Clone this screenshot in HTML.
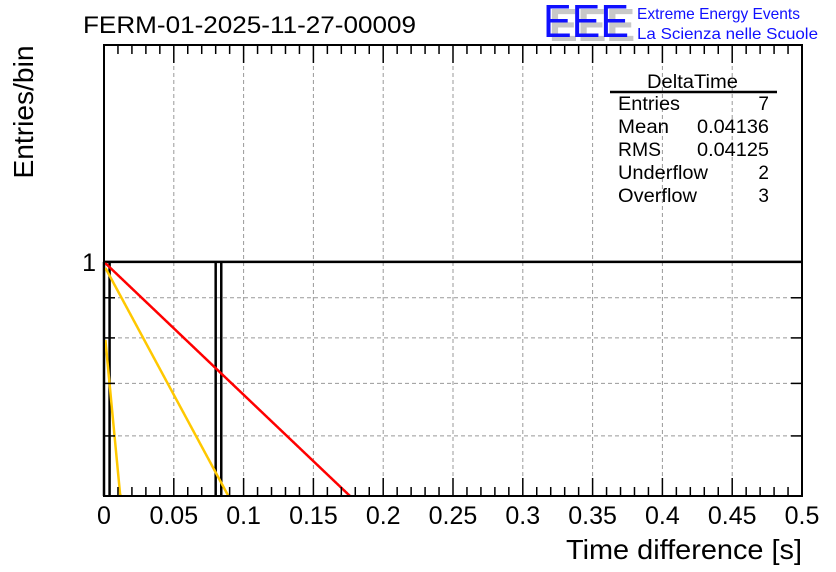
<!DOCTYPE html>
<html><head><meta charset="utf-8"><style>
html,body{margin:0;padding:0;background:#fff;}
svg{display:block;font-family:"Liberation Sans",sans-serif;}
</style></head><body>
<svg id="chart" width="836" height="572" viewBox="0 0 836 572" xmlns="http://www.w3.org/2000/svg">
<rect width="836" height="572" fill="#fff"/>
<text x="83" y="33" font-size="24" textLength="333" lengthAdjust="spacingAndGlyphs">FERM-01-2025-11-27-00009</text>
<g>
<text x="549" y="41" font-size="46" fill="#c8c8c8" font-weight="bold" textLength="86" lengthAdjust="spacingAndGlyphs">EEE</text>
<text x="543" y="37" font-size="46" fill="#1010ff" textLength="86" lengthAdjust="spacingAndGlyphs">EEE</text>
<text x="637" y="19" font-size="16" fill="#1010ff" textLength="163" lengthAdjust="spacingAndGlyphs">Extreme Energy Events</text>
<text x="637" y="39" font-size="16" fill="#1010ff" textLength="181" lengthAdjust="spacingAndGlyphs">La Scienza nelle Scuole</text>
</g>
<g id="grid"></g>
<g id="plot"></g>
<g id="axes"></g>
<text x="33" y="112" font-size="28" transform="rotate(-90 33 112)" text-anchor="middle" textLength="133" lengthAdjust="spacingAndGlyphs">Entries/bin</text>
<text x="566" y="559" font-size="28" textLength="236" lengthAdjust="spacingAndGlyphs">Time difference [s]</text>
<g font-size="19">
<text x="647" y="88" textLength="91" lengthAdjust="spacingAndGlyphs">DeltaTime</text>
<line x1="610" y1="92" x2="777" y2="92" stroke="#000" stroke-width="2.5"/>
<text x="618" y="110" textLength="62" lengthAdjust="spacingAndGlyphs">Entries</text><text x="769" y="110" text-anchor="end">7</text>
<text x="618" y="133" textLength="51" lengthAdjust="spacingAndGlyphs">Mean</text><text x="697" y="133" textLength="72" lengthAdjust="spacingAndGlyphs">0.04136</text>
<text x="618" y="156" textLength="43" lengthAdjust="spacingAndGlyphs">RMS</text><text x="697" y="156" textLength="72" lengthAdjust="spacingAndGlyphs">0.04125</text>
<text x="618" y="179" textLength="90" lengthAdjust="spacingAndGlyphs">Underflow</text><text x="769" y="179" text-anchor="end">2</text>
<text x="618" y="202" textLength="79" lengthAdjust="spacingAndGlyphs">Overflow</text><text x="769" y="202" text-anchor="end">3</text>
</g>
</svg>
<script>
const xTicks = [0,0.05,0.1,0.15,0.2,0.25,0.3,0.35,0.4,0.45,0.5];
const xTickLabels = ["0","0.05","0.1","0.15","0.2","0.25","0.3","0.35","0.4","0.45","0.5"];
const yGrid = [0.6,0.7,0.8,0.9,1];
const yTickLabels = ["1"];
const binEdges = [0.0,0.004,0.08,0.084];
const binCounts = [1,1];
const fitNames = ["fit-red","fit-yellow","fit-yellow-steep"];
const fitAmp = [1.0,0.99,0.83];
const fitLambda = [3.9,7.6,43];
const fitStart = [0.0,0.001,0.001];
const fitColor = ["#ff0000","#ffc800","#ffc800"];

const NS="http://www.w3.org/2000/svg";
const X0=104,X1=802,Y0=45,Y1=496;
const yMin=0.503,yMax=1.89;
const sx=v=>X0+(v-0)/(0.5)*(X1-X0);
const sy=v=>Y1-(Math.log10(v)-Math.log10(yMin))/(Math.log10(yMax)-Math.log10(yMin))*(Y1-Y0);
function mk(tag,attrs,parent){const e=document.createElementNS(NS,tag);for(const k in attrs)e.setAttribute(k,attrs[k]);parent.appendChild(e);return e;}
const grid=document.getElementById('grid'),plot=document.getElementById('plot'),axes=document.getElementById('axes');

xTicks.forEach((t,i)=>{
  if(i>0&&i<xTicks.length-1){const l=mk('line',{x1:sx(t),x2:sx(t),y1:Y0,y2:Y1,stroke:'#999','stroke-dasharray':'4,3','stroke-width':1},grid);
  
  }
  const tx=mk('text',{x:sx(t),y:524,'font-size':25,'text-anchor':'middle'},axes);
  tx.textContent=xTickLabels[i];
  
  
});
yGrid.forEach(v=>{
  if(v<1){const l=mk('line',{x1:X0,x2:X1,y1:sy(v),y2:sy(v),stroke:'#999','stroke-dasharray':'4,3','stroke-width':1},grid);
  
  }
  mk('line',{x1:X0,x2:X0+11,y1:sy(v),y2:sy(v),stroke:'#000','stroke-width':1.5},axes);
  mk('line',{x1:X1,x2:X1-11,y1:sy(v),y2:sy(v),stroke:'#000','stroke-width':1.5},axes);
});
const yl=mk('text',{x:96,y:sy(1)+9,'font-size':25,'text-anchor':'end'},axes);
yl.textContent=yTickLabels[0];


for(let k=0;k<=50;k++){const t=k*0.01;const len=(k%5===0)?18:9;
  mk('line',{x1:sx(t),x2:sx(t),y1:Y1,y2:Y1-len,stroke:'#000','stroke-width':1.5},axes);
  mk('line',{x1:sx(t),x2:sx(t),y1:Y0,y2:Y0+len,stroke:'#000','stroke-width':1.5},axes);}

const baseY=Y1;
let d='M'+X0+','+sy(1)+' L'+X1+','+sy(1);
for(let i=0;i<binCounts.length;i++){
  const xa=sx(binEdges[2*i]),xb=sx(binEdges[2*i+1]),yv=sy(binCounts[i]);
  d+=' M'+xa+','+baseY+' L'+xa+','+yv+' M'+xb+','+yv+' L'+xb+','+baseY;
}
const h=mk('path',{d:d,fill:'none',stroke:'#000','stroke-width':2.5},plot);



fitNames.forEach((n,i)=>{
  let pts=[];
  for(let k=0;k<=400;k++){const t=fitStart[i]+k*0.0005;const v=fitAmp[i]*Math.exp(-fitLambda[i]*t);
    if(v<yMin){pts.push([sx(t),Y1]);break;} pts.push([sx(t),sy(v)]);}
  const p=mk('polyline',{points:pts.map(q=>q.join(',')).join(' '),fill:'none',stroke:fitColor[i],'stroke-width':2.5},plot);
  
  
});
mk('rect',{x:X0,y:Y0,width:X1-X0,height:Y1-Y0,fill:'none',stroke:'#000','stroke-width':2},axes);
</script>
</body></html>
